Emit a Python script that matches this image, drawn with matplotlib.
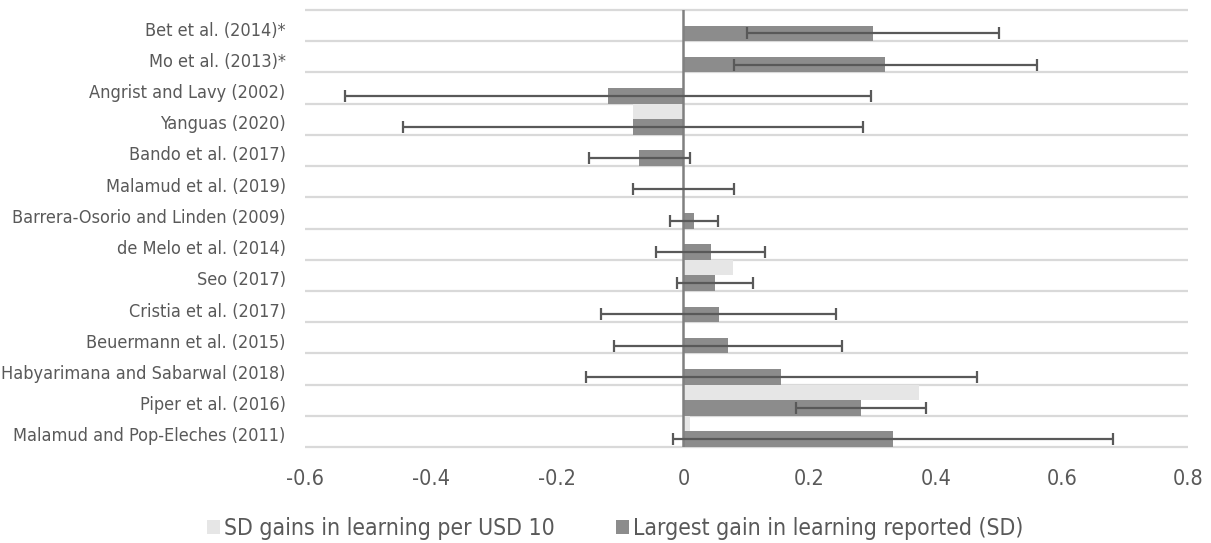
import numpy as np
import matplotlib
matplotlib.use("Agg")
import matplotlib.pyplot as plt
import matplotlib.font_manager as fm
import matplotlib.transforms as mtransforms
from matplotlib.patches import Patch

# ---------------- data ----------------
studies = [
    "Bet et al. (2014)*",
    "Mo et al. (2013)*",
    "Angrist and Lavy (2002)",
    "Yanguas (2020)",
    "Bando et al. (2017)",
    "Malamud et al. (2019)",
    "Barrera-Osorio and Linden (2009)",
    "de Melo et al. (2014)",
    "Seo (2017)",
    "Cristia et al. (2017)",
    "Beuermann et al. (2015)",
    "Habyarimana and Sabarwal (2018)",
    "Piper et al. (2016)",
    "Malamud and Pop-Eleches (2011)",
]
gain_per_usd10 = [np.nan, np.nan, np.nan, -0.08, np.nan, np.nan, np.nan,
                  np.nan, 0.079, np.nan, np.nan, np.nan, 0.374, 0.011]
largest_gain = [0.30, 0.32, -0.12, -0.08, -0.07, 0.0, 0.017,
                0.043, 0.05, 0.056, 0.071, 0.155, 0.282, 0.332]
gain_error = [0.20, 0.24, 0.417, 0.365, 0.08, 0.08, 0.038,
              0.087, 0.06, 0.186, 0.181, 0.31, 0.103, 0.349]
x_ticks = [-0.6, -0.4, -0.2, 0, 0.2, 0.4, 0.6, 0.8]
x_tick_labels = ["-0.6", "-0.4", "-0.2", "0", "0.2", "0.4", "0.6", "0.8"]
series_names = ["SD gains in learning per USD 10",
                "Largest gain in learning reported (SD)"]

# ---------------- font ----------------
names = {f.name for f in fm.fontManager.ttflist}
stretch = "normal"
if "Liberation Sans Narrow" in names:
    fam = "Liberation Sans Narrow"
elif any(f.name == "DejaVu Sans" and "Condensed" in f.fname for f in fm.fontManager.ttflist):
    fam = "DejaVu Sans"
    stretch = "condensed"
else:
    fam = "Liberation Sans"
plt.rcParams["font.family"] = [fam, "DejaVu Sans"]
plt.rcParams["font.stretch"] = stretch

TXT = "#595959"
LIGHT = "#e6e6e6"
DARK = "#8c8c8c"
ERR = "#595959"
GRID = "#d9d9d9"

fig = plt.figure(figsize=(12.11, 5.43), dpi=100)
ax = fig.add_axes([305 / 1211, 1 - 447 / 543, (1188 - 305) / 1211, (447 - 10) / 543])

y = np.arange(len(studies))
ax.barh(y - 0.25, gain_per_usd10, height=0.5, color=LIGHT, zorder=2)
ax.barh(y + 0.25, largest_gain, height=0.5, color=DARK, zorder=2)
ax.errorbar(largest_gain, y + 0.25, xerr=gain_error, fmt="none", ecolor=ERR,
            elinewidth=1.6, capsize=4.5, capthick=1.6, zorder=4)

ax.set_xlim(-0.6, 0.8)
ax.set_ylim(len(studies) - 0.5, -0.5)
bounds = np.arange(len(studies) + 1) - 0.5
ax.hlines(bounds, -0.6, 0.8, color=GRID, lw=1.6, zorder=0, clip_on=False)
ax.axvline(0, color="#808080", lw=1.8, zorder=3)

for s in ax.spines.values():
    s.set_visible(False)

ax.set_xticks(x_ticks)
ax.set_xticklabels(x_tick_labels, fontsize=15.5, color=TXT)
ax.set_yticks(y)
ax.set_yticklabels(studies, fontsize=13, color=TXT)
ax.tick_params(axis="x", length=0, pad=16)
ax.tick_params(axis="y", length=0, pad=14)
shift = mtransforms.ScaledTranslation(0, -3 / 100, fig.dpi_scale_trans)
for lab in ax.get_yticklabels():
    lab.set_transform(lab.get_transform() + shift)

handles = [Patch(facecolor=LIGHT, edgecolor="none"), Patch(facecolor=DARK, edgecolor="none")]
fig.legend(handles, series_names, loc="center", bbox_to_anchor=(0.508, 0.026),
           ncol=2, frameon=False, fontsize=16.5, labelcolor=TXT,
           handlelength=0.57, handleheight=0.57, handletextpad=0.17, columnspacing=2.67)

fig.savefig("out.png", dpi=100)
